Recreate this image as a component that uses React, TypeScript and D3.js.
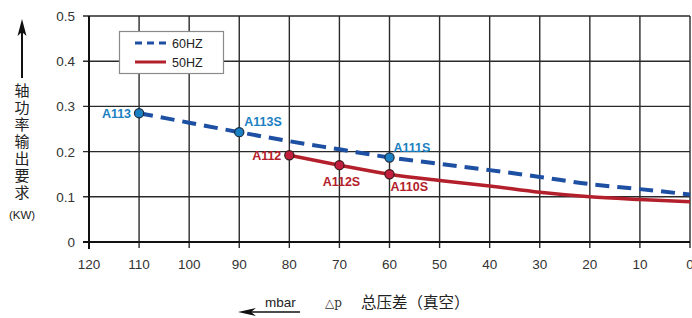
import React from 'react';
import * as d3 from 'd3';

const xTicks = [120, 110, 100, 90, 80, 70, 60, 50, 40, 30, 20, 10, 0];
const yTicks = [0, 0.1, 0.2, 0.3, 0.4, 0.5];

const hz60X = [110, 100, 90, 80, 70, 60, 50, 40, 30, 20, 10, 0];
const hz60Y = [0.285, 0.264, 0.243, 0.223, 0.205, 0.187, 0.173, 0.159, 0.144, 0.128, 0.117, 0.105];
const hz50X = [80, 70, 60, 50, 40, 30, 20, 10, 0];
const hz50Y = [0.192, 0.170, 0.150, 0.136, 0.124, 0.110, 0.100, 0.094, 0.089];

const blueMarks = [
  { label: 'A113', x: 110, y: 0.285 },
  { label: 'A113S', x: 90, y: 0.243 },
  { label: 'A111S', x: 60, y: 0.187 },
];
const redMarks = [
  { label: 'A112', x: 80, y: 0.192 },
  { label: 'A112S', x: 70, y: 0.170 },
  { label: 'A110S', x: 60, y: 0.150 },
];

const BLUE = '#1d4fa3';
const BLUE_PT = '#1a80c2';
const RED = '#b3202b';
const RED_PT = '#c41e3f';
const SANS = '"Liberation Sans", Arial, sans-serif';
const CJK = '"Noto Sans CJK SC", sans-serif';

// label offsets relative to marker
const labelPos: Record<string, { dx: number; dy: number; anchor: string }> = {
  A113: { dx: -8, dy: 5, anchor: 'end' },
  A113S: { dx: 5, dy: -6, anchor: 'start' },
  A111S: { dx: 4, dy: -5, anchor: 'start' },
  A112: { dx: -8, dy: 5, anchor: 'end' },
  A112S: { dx: 2, dy: 21, anchor: 'middle' },
  A110S: { dx: 1, dy: 17, anchor: 'start' },
};

export default function App() {
  const W = 692;
  const H = 318;
  const x = d3.scaleLinear().domain([120, 0]).range([89, 690]);
  const y = d3.scaleLinear().domain([0, 0.5]).range([242, 16]);

  const line = d3
    .line<[number, number]>()
    .x((d) => x(d[0]))
    .y((d) => y(d[1]))
    .curve(d3.curveMonotoneX);

  const blueData = hz60X.map((v, i) => [v, hz60Y[i]] as [number, number]);
  const redData = hz50X.map((v, i) => [v, hz50Y[i]] as [number, number]);

  return (
    <svg
      width={W}
      height={H}
      style={{ position: 'absolute', left: 0, top: 0, background: '#fff' }}
    >
      {/* grid */}
      {yTicks.map((t) => (
        <line key={'gy' + t} x1={83} x2={690} y1={y(t)} y2={y(t)} stroke="#2a2a2a" strokeWidth={1.4} />
      ))}
      {xTicks.map((t) => (
        <line key={'gx' + t} x1={x(t)} x2={x(t)} y1={16} y2={248} stroke="#2a2a2a" strokeWidth={1.4} />
      ))}
      {/* axes */}
      <line x1={x(120)} x2={x(120)} y1={16} y2={249} stroke="#111" strokeWidth={2} />
      <line x1={83} x2={690} y1={y(0)} y2={y(0)} stroke="#111" strokeWidth={2} />

      {/* tick labels */}
      {yTicks.map((t) => (
        <text key={'ty' + t} x={75} y={y(t) + 5} textAnchor="end" fontFamily={SANS} fontSize={13.5} fill="#333">
          {t === 0 ? '0' : t.toFixed(1)}
        </text>
      ))}
      {xTicks.map((t) => (
        <text key={'tx' + t} x={x(t)} y={269} textAnchor="middle" fontFamily={SANS} fontSize={13.5} fill="#333">
          {t}
        </text>
      ))}

      {/* legend */}
      <rect x={119.5} y={31.5} width={104} height={42} fill="#fff" stroke="#8a8a8a" strokeWidth={1.2} />
      <line x1={135} x2={166} y1={43} y2={43} stroke={BLUE} strokeWidth={3} strokeDasharray="7,5" />
      <text x={172} y={47.5} fontFamily={SANS} fontSize={12.5} fill="#222">60HZ</text>
      <line x1={135} x2={166} y1={62} y2={62} stroke={RED} strokeWidth={3} />
      <text x={172} y={66.5} fontFamily={SANS} fontSize={12.5} fill="#222">50HZ</text>

      {/* series */}
      <path d={line(redData) ?? ''} fill="none" stroke={RED} strokeWidth={3.6} />
      <path d={line(blueData) ?? ''} fill="none" stroke={BLUE} strokeWidth={4} strokeDasharray="14,8" />

      {blueMarks.map((m) => (
        <g key={m.label}>
          <circle cx={x(m.x)} cy={y(m.y)} r={4.6} fill={BLUE_PT} stroke="#1a2a40" strokeWidth={1.2} />
          <text
            x={x(m.x) + labelPos[m.label].dx}
            y={y(m.y) + labelPos[m.label].dy}
            textAnchor={labelPos[m.label].anchor as any}
            fontFamily={SANS}
            fontWeight="bold"
            fontSize={12.5}
            fill={BLUE_PT}
          >
            {m.label}
          </text>
        </g>
      ))}
      {redMarks.map((m) => (
        <g key={m.label}>
          <circle cx={x(m.x)} cy={y(m.y)} r={4.6} fill={RED_PT} stroke="#3a1a1a" strokeWidth={1.2} />
          <text
            x={x(m.x) + labelPos[m.label].dx}
            y={y(m.y) + labelPos[m.label].dy}
            textAnchor={labelPos[m.label].anchor as any}
            fontFamily={SANS}
            fontWeight="bold"
            fontSize={12.5}
            fill={RED}
          >
            {m.label}
          </text>
        </g>
      ))}

      {/* y axis title */}
      <line x1={22} x2={22} y1={78} y2={26} stroke="#111" strokeWidth={2} />
      <path d="M22,19 L26.5,36 L22,32 L17.5,36 Z" fill="#111" />
      <text
        x={22}
        y={83}
        fontFamily={CJK}
        fontSize={15}
        letterSpacing={2}
        fill="#222"
        style={{ writingMode: 'vertical-rl' }}
      >
        轴功率输出要求
      </text>
      <text x={22} y={219} textAnchor="middle" fontFamily={SANS} fontSize={11.5} fill="#222">(KW)</text>

      {/* x axis title */}
      <line x1={246} x2={300} y1={312} y2={312} stroke="#111" strokeWidth={1.6} />
      <path d="M238,312 L256,308 L251,312 L256,316 Z" fill="#111" />
      <text x={265} y={307} fontFamily={SANS} fontSize={13.5} fill="#222">mbar</text>
      <text x={325} y={307} fontFamily={'"DejaVu Serif", serif'} fontSize={12} fill="#333">△p</text>
      <text x={361} y={308} fontFamily={CJK} fontSize={15.5} fill="#222">总压差（真空）</text>
    </svg>
  );
}
